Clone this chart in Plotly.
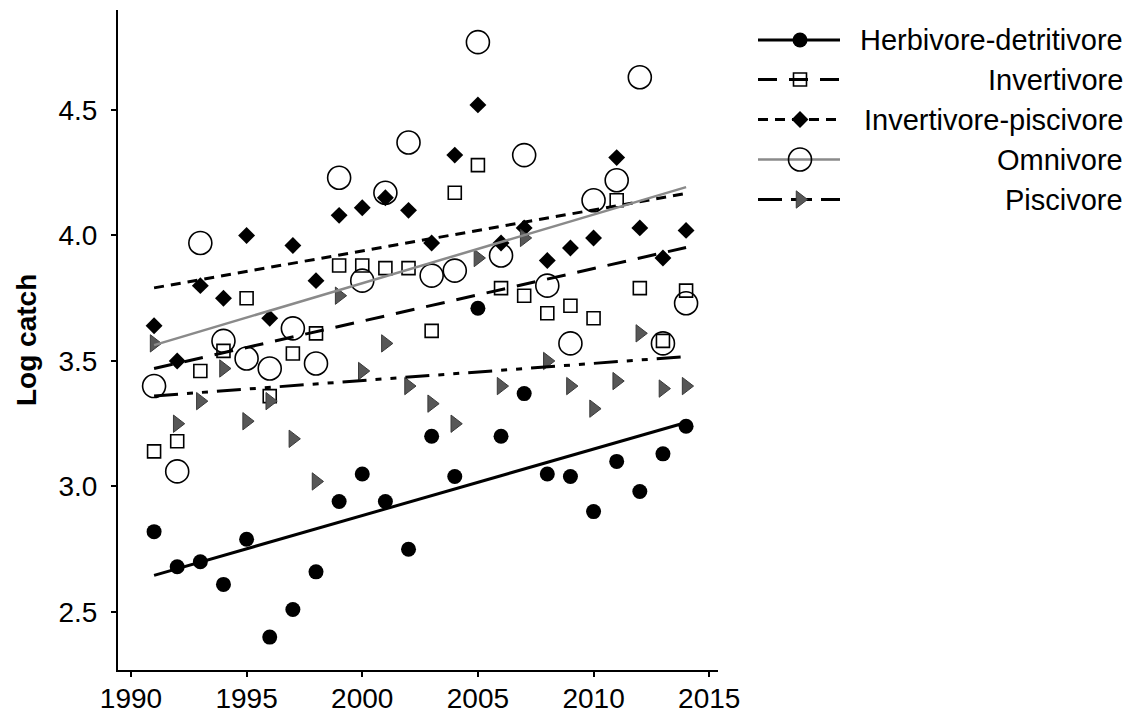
import numpy as np
import plotly.graph_objects as go

years = list(range(1991, 2015))
herbivore_detritivore = [2.82, 2.68, 2.70, 2.61, 2.79, 2.40, 2.51, 2.66, 2.94, 3.05, 2.94, 2.75,
                         3.20, 3.04, 3.71, 3.20, 3.37, 3.05, 3.04, 2.90, 3.10, 2.98, 3.13, 3.24]
invertivore = [3.14, 3.18, 3.46, 3.54, 3.75, 3.36, 3.53, 3.61, 3.88, 3.88, 3.87, 3.87,
               3.62, 4.17, 4.28, 3.79, 3.76, 3.69, 3.72, 3.67, 4.14, 3.79, 3.58, 3.78]
invertivore_piscivore = [3.64, 3.50, 3.80, 3.75, 4.00, 3.67, 3.96, 3.82, 4.08, 4.11, 4.15, 4.10,
                         3.97, 4.32, 4.52, 3.97, 4.03, 3.90, 3.95, 3.99, 4.31, 4.03, 3.91, 4.02]
omnivore = [3.40, 3.06, 3.97, 3.58, 3.51, 3.47, 3.63, 3.49, 4.23, 3.82, 4.17, 4.37,
            3.84, 3.86, 4.77, 3.92, 4.32, 3.80, 3.57, 4.14, 4.22, 4.63, 3.57, 3.73]
piscivore = [3.57, 3.25, 3.34, 3.47, 3.26, 3.34, 3.19, 3.02, 3.76, 3.46, 3.57, 3.40,
             3.33, 3.25, 3.91, 3.40, 3.99, 3.50, 3.40, 3.31, 3.42, 3.61, 3.39, 3.40]

series_names = ["Herbivore-detritivore", "Invertivore", "Invertivore-piscivore", "Omnivore", "Piscivore"]
series_values = [herbivore_detritivore, invertivore, invertivore_piscivore, omnivore, piscivore]
x_ticks = [1990, 1995, 2000, 2005, 2010, 2015]
y_ticks = [2.5, 3.0, 3.5, 4.0, 4.5]

styles = [
    dict(marker=dict(symbol="circle", size=15, color="black", line=dict(width=0)),
         line=dict(color="black", width=3, dash="solid")),
    dict(marker=dict(symbol="square-open", size=13, color="black", line=dict(width=1.6)),
         line=dict(color="black", width=3, dash="19px,12px")),
    dict(marker=dict(symbol="diamond", size=13, color="black", line=dict(width=0)),
         line=dict(color="black", width=3, dash="10px,7px")),
    dict(marker=dict(symbol="circle-open", size=23, color="black", line=dict(width=1.6)),
         line=dict(color="#8a8a8a", width=2.5, dash="solid")),
    dict(marker=dict(symbol="triangle-right", size=15, color="#575757", line=dict(width=1, color="#3a3a3a")),
         line=dict(color="black", width=3, dash="24px,9px,6px,9px,6px,9px")),
]

fig = go.Figure()
font = "Liberation Sans, Arial, sans-serif"

# points
for name, vals, st in zip(series_names, series_values, styles):
    fig.add_trace(go.Scatter(x=years, y=vals, mode="markers", marker=st["marker"],
                             showlegend=False, name=name, xaxis="x", yaxis="y"))

# linear fits
for name, vals, st in zip(series_names, series_values, styles):
    slope, intercept = np.polyfit(years, vals, 1)
    xs = [years[0], years[-1]]
    ys = [intercept + slope * xv for xv in xs]
    fig.add_trace(go.Scatter(x=xs, y=ys, mode="lines", line=st["line"],
                             showlegend=False, name=name, xaxis="x", yaxis="y"))

# custom legend on a helper axis (pixel-like units)
leg_rows = [40, 79.5, 119.5, 159.5, 199.5]
for name, st, ry in zip(series_names, styles, leg_rows):
    fig.add_trace(go.Scatter(x=[758, 840], y=[ry, ry], mode="lines", line=st["line"],
                             showlegend=False, xaxis="x2", yaxis="y2", hoverinfo="skip"))
    fig.add_trace(go.Scatter(x=[800], y=[ry], mode="markers", marker=st["marker"],
                             showlegend=False, xaxis="x2", yaxis="y2", hoverinfo="skip"))
    fig.add_annotation(x=1125, y=ry, xref="x2", yref="y2", text=name, showarrow=False,
                       xanchor="right", yanchor="middle",
                       font=dict(family=font, size=29, color="black"))

L, R, T, B = 118, 0, 10, 45
W, H = 1146, 715
pw = W - L - R
fig.update_layout(
    width=W, height=H, autosize=False,
    margin=dict(l=L, r=R, t=T, b=B, pad=0, autoexpand=False),
    paper_bgcolor="white", plot_bgcolor="white",
    xaxis=dict(domain=[0, 600 / pw], range=[1989.44, 2015.38], tickvals=x_ticks,
               ticktext=[str(v) for v in x_ticks], automargin=False, ticklabelstandoff=-3,
               showgrid=False, zeroline=False, showline=True, linecolor="black", linewidth=2,
               ticks="outside", ticklen=5, tickwidth=2, tickcolor="black",
               tickfont=dict(family=font, size=28, color="black")),
    yaxis=dict(range=[2.269, 4.898], tickvals=y_ticks, ticktext=["2.5", "3.0", "3.5", "4.0", "4.5"],
               automargin=False, ticklabelstandoff=8,
               showgrid=False, zeroline=False, showline=True, linecolor="black", linewidth=2,
               ticks="outside", ticklen=5, tickwidth=2, tickcolor="black",
               tickfont=dict(family=font, size=28, color="black")),
    xaxis2=dict(domain=[(750 - L) / pw, 1], range=[750, 1146], visible=False, fixedrange=True,
                automargin=False),
    yaxis2=dict(domain=[0, 1], range=[670, 10], visible=False, anchor="x2", fixedrange=True,
                automargin=False),
    showlegend=False,
)
fig.add_annotation(x=(26 - L) / pw, y=0.5, xref="paper", yref="paper", text="<b>Log catch</b>",
                   textangle=-90, showarrow=False, xanchor="center", yanchor="middle",
                   font=dict(family=font, size=28, color="black"))

fig.write_html("out.html", post_script="document.body.style.margin='0';",
               config={"responsive": False, "displayModeBar": False})
